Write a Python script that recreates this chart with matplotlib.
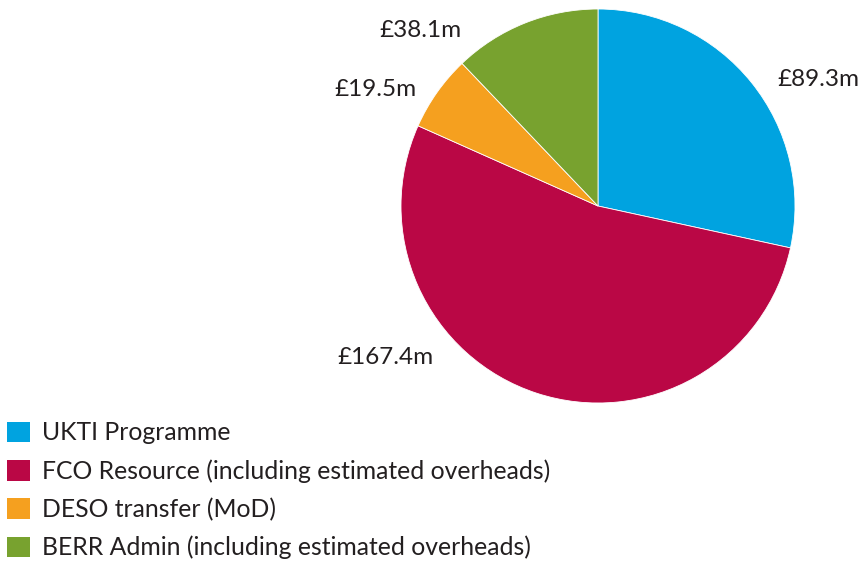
import matplotlib
matplotlib.use("Agg")
import matplotlib.pyplot as plt
from matplotlib.patches import Patch

plt.rcParams['font.family'] = ['Lato', 'DejaVu Sans']

categories = ['UKTI Programme',
              'FCO Resource (including estimated overheads)',
              'DESO transfer (MoD)',
              'BERR Admin (including estimated overheads)']
values = [89.3, 167.4, 19.5, 38.1]
value_labels = ['£89.3m', '£167.4m', '£19.5m', '£38.1m']
colors = ['#00A3E0', '#BA0745', '#F5A01F', '#78A22F']
# label anchor points, in pie radius units
label_pos = [(1.12, 0.64), (-1.08, -0.77), (-1.13, 0.59), (-0.90, 0.89)]
text_color = '#231F20'

fig = plt.figure(figsize=(8.6, 5.61), dpi=100)
ax = fig.add_axes([401 / 860, (561 - 206 - 197) / 561, 394 / 860, 394 / 561])
ax.pie(values, colors=colors, startangle=90, counterclock=False,
       radius=1, wedgeprops=dict(linewidth=0.6, edgecolor='white'))
ax.set_xlim(-1, 1)
ax.set_ylim(-1, 1)
ax.set_aspect('equal')
ax.axis('off')

for (x, y), lab in zip(label_pos, value_labels):
    ax.text(x, y, lab, ha='center', va='center', fontsize=17.5,
            color=text_color, clip_on=False)

handles = [Patch(facecolor=c, edgecolor='none') for c in colors]
fig.legend(handles, categories, loc='upper left', bbox_to_anchor=(0.0, 1 - 414 / 561),
           frameon=False, fontsize=17.8, handlelength=0.9, handleheight=0.9,
           handletextpad=0.5, labelspacing=0.6, borderpad=0.3,
           borderaxespad=0, labelcolor=text_color)

fig.savefig('out.png', dpi=100)
